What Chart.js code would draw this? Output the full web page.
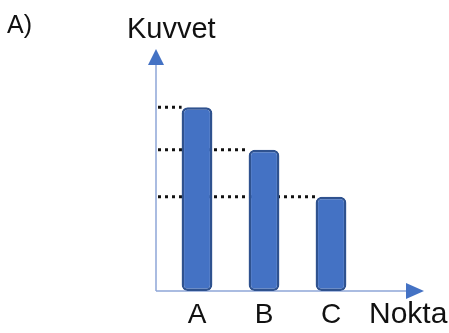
<!DOCTYPE html>
<html>
<head>
<meta charset="utf-8">
<script src="https://cdn.jsdelivr.net/npm/chart.js@4/dist/chart.umd.min.js"></script>
<style>
  html, body { margin: 0; padding: 0; background: #ffffff; }
  #wrap { width: 449px; height: 333px; position: relative; }
</style>
</head>
<body>
<div id="wrap"><canvas id="c" width="449" height="333"></canvas></div>
<script>
const categories = ['A', 'B', 'C'];
const forceValues = [3.9, 3.0, 2.0];
const panelLabel = 'A)';
const yTitle = 'Kuvvet';
const xTitle = 'Nokta';

const FONT = '"Liberation Sans", Arial, sans-serif';
const AXIS_X = 156;

const decorPlugin = {
  id: 'decor',
  beforeDatasetsDraw(chart) {
    const ctx = chart.ctx;
    const ca = chart.chartArea;
    const yScale = chart.scales.y;
    const meta = chart.getDatasetMeta(0);
    const baseY = ca.bottom;
    ctx.save();
    ctx.strokeStyle = '#111111';
    ctx.lineWidth = 3;
    ctx.setLineDash([3, 4]);
    meta.data.forEach((bar, i) => {
      const y = yScale.getPixelForValue(forceValues[i]);
      const left = bar.x - bar.width / 2;
      ctx.beginPath();
      ctx.moveTo(AXIS_X + 2, y);
      ctx.lineTo(left, y);
      ctx.stroke();
    });
    ctx.setLineDash([]);
    ctx.strokeStyle = '#8FA6D8';
    ctx.lineWidth = 1.5;
    ctx.beginPath();
    ctx.moveTo(AXIS_X, baseY);
    ctx.lineTo(AXIS_X, 64);
    ctx.moveTo(AXIS_X, baseY);
    ctx.lineTo(407, baseY);
    ctx.stroke();
    ctx.fillStyle = '#4472C4';
    ctx.beginPath();
    ctx.moveTo(AXIS_X, 49);
    ctx.lineTo(AXIS_X - 8, 65);
    ctx.lineTo(AXIS_X + 8, 65);
    ctx.closePath();
    ctx.fill();
    ctx.beginPath();
    ctx.moveTo(424, baseY);
    ctx.lineTo(406, baseY - 8);
    ctx.lineTo(406, baseY + 8);
    ctx.closePath();
    ctx.fill();
    ctx.restore();
  },
  afterDraw(chart) {
    const ctx = chart.ctx;
    ctx.save();
    ctx.fillStyle = '#111111';
    ctx.textBaseline = 'alphabetic';
    ctx.textAlign = 'left';
    ctx.font = '25px ' + FONT;
    ctx.fillText(panelLabel, 7, 33);
    ctx.font = '29px ' + FONT;
    ctx.fillText(yTitle, 127, 38);
    ctx.font = '30px ' + FONT;
    ctx.fillText(xTitle, 369, 323);
    ctx.restore();
  }
};

new Chart(document.getElementById('c'), {
  type: 'bar',
  data: {
    labels: categories,
    datasets: [{
      data: forceValues,
      backgroundColor: '#4472C4',
      borderColor: '#2F528F',
      borderWidth: 2.5,
      borderRadius: 6,
      borderSkipped: false,
      barPercentage: 0.46,
      categoryPercentage: 1
    }]
  },
  options: {
    responsive: false,
    animation: false,
    events: [],
    layout: { padding: { left: 163.5, right: 84.5, top: 46, bottom: 6 } },
    plugins: { legend: { display: false }, tooltip: { enabled: false }, title: { display: false } },
    scales: {
      x: {
        grid: { display: false, drawTicks: false },
        border: { display: false },
        ticks: { color: '#111111', font: { family: FONT, size: 28 }, padding: 7, maxRotation: 0 },
        afterFit: (scale) => { scale.height = 36; }
      },
      y: {
        display: false,
        min: 0,
        max: 5.2
      }
    }
  },
  plugins: [decorPlugin]
});
</script>
</body>
</html>
